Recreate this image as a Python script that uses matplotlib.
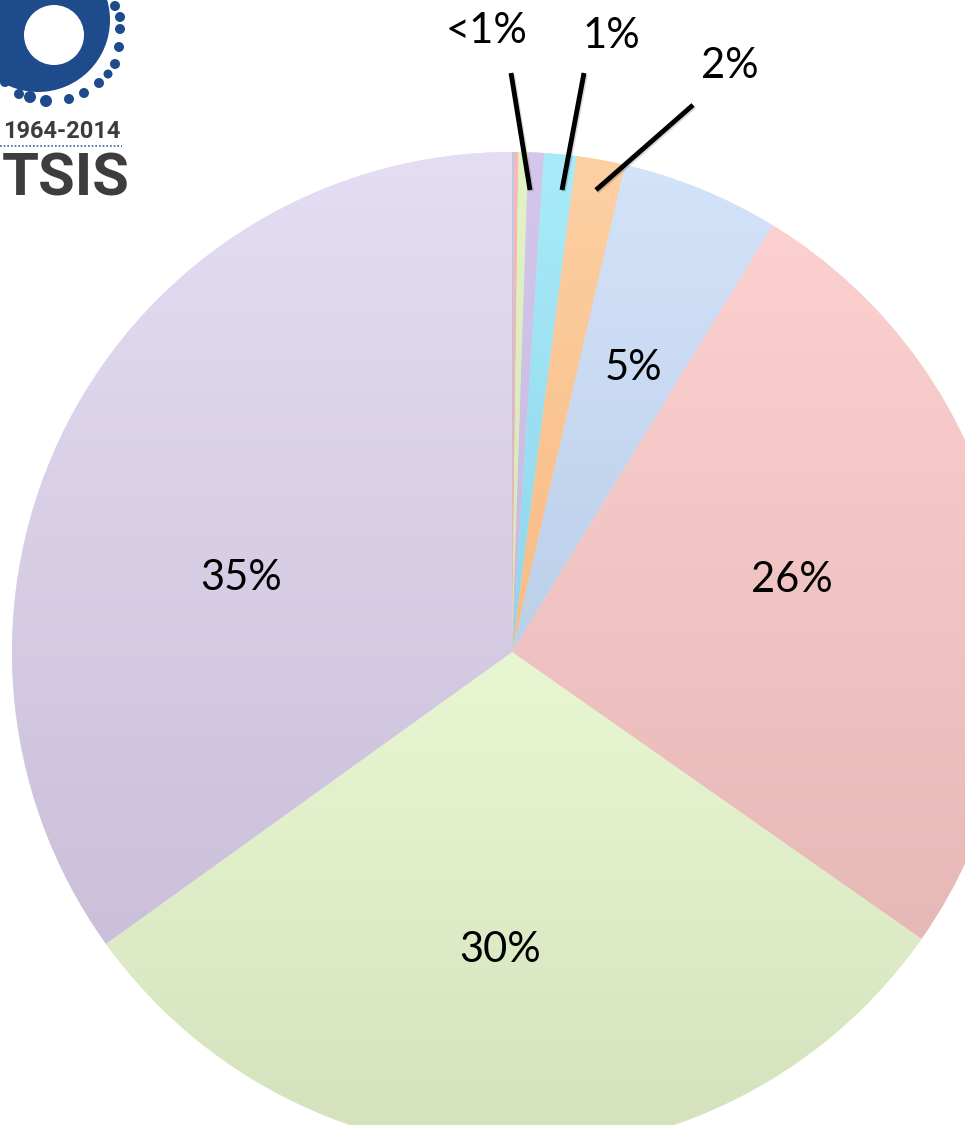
import numpy as np
import matplotlib
matplotlib.use("Agg")
import matplotlib.pyplot as plt
from matplotlib.patches import Circle
import matplotlib.patheffects as pe
from matplotlib.colors import to_rgb

# slice shares, clockwise from 12 o'clock
shares = [0.06, 0.14, 0.32, 0.50, 1.04, 1.57, 5.10, 26.00, 30.35, 34.92]
top_cols = ["#b4cbee", "#f9b9b8", "#e2f3c6", "#d4c6ec", "#a9ebf8", "#fdd0a4",
            "#d3e3f9", "#fbd0cf", "#e8f7d2", "#e4ddf3"]
bot_cols = ["#a9c0e4", "#eeaeae", "#d5e6b9", "#c8b9de", "#8ed6ec", "#f8bb85",
            "#bccfe9", "#e6b9b7", "#d5e1bd", "#cbbfd9"]
labels = ["", "", "", "<1%", "1%", "2%", "5%", "26%", "30%", "35%"]

# where the labels sit (pixels, y down) and the leader lines for the small ones
lab_xy = [None, None, None, (487, 31), (611, 36), (730, 66),
          (633, 368), (792, 580), (500, 950), (241, 578)]
leaders = {3: ((511, 73), (530, 190)),
           4: ((584, 73), (562, 190)),
           5: ((693, 105), (596, 190))}

W, H = 965, 1125
cx, cy, R = 512, 652, 500


def Y(y):
    return H - y


fig = plt.figure(figsize=(W / 100, H / 100), dpi=100)
ax = fig.add_axes([0, 0, 1, 1])

wedges, _ = ax.pie(
    shares,
    colors=top_cols,
    startangle=90,
    counterclock=False,
    center=(cx, Y(cy)),
    radius=R,
    wedgeprops=dict(linewidth=0),
)

# vertical light-to-dark gradient inside every slice
for w, c0, c1 in zip(wedges, top_cols, bot_cols):
    v = w.get_path().vertices
    x0, x1 = v[:, 0].min(), v[:, 0].max()
    y0, y1 = v[:, 1].min(), v[:, 1].max()
    t = np.linspace(0, 1, 256)[:, None]
    a, b = np.array(to_rgb(c0)), np.array(to_rgb(c1))
    img = (a * (1 - t) + b * t)[:, None, :]
    im = ax.imshow(img, extent=[x0 - 1, x1 + 1, y0 - 1, y1 + 1], origin="upper",
                   aspect="auto", interpolation="bilinear", zorder=1.5)
    im.set_clip_path(w)

fnt = "Lato"
for i, lab in enumerate(labels):
    if not lab:
        continue
    x, y = lab_xy[i]
    ax.text(x, Y(y), lab, fontsize=30, family=fnt, color="black",
            ha="center", va="center", zorder=5)

shadow = [pe.SimpleLineShadow(offset=(1.0, -1.0), alpha=0.15, shadow_color="black"),
          pe.Normal()]
for i, (p0, p1) in leaders.items():
    ax.plot([p0[0], p1[0]], [Y(p0[1]), Y(p1[1])], color="black", lw=3.5,
            solid_capstyle="butt", zorder=6, path_effects=shadow)

# logo in the top-left corner
blue = "#1d4b8c"
dots = [(115, 6, 5), (120, 17, 5), (120, 29, 5), (119, 47, 5), (115, 64, 5),
        (108, 74, 4.5), (99, 83, 5), (84, 93, 5), (69, 99, 5), (46, 101, 6),
        (30, 97, 6), (19, 94, 5), (5, 82, 5)]
for dx, dy, dr in dots:
    ax.add_patch(Circle((dx, Y(dy)), dr, color=blue, zorder=7, lw=0))
ax.add_patch(Circle((38, Y(20)), 72, color=blue, zorder=7, lw=0))
ax.add_patch(Circle((54, Y(35)), 30, color="white", zorder=8, lw=0))
ax.text(120, Y(131), "1964-2014", fontsize=17, family="Roboto", weight="bold",
        color="#3c3c3c", ha="right", va="center", zorder=9)
ax.plot([0, 122], [Y(146), Y(146)], color="#3a64a0", lw=1.2,
        linestyle=(0, (1, 1.2)), zorder=9)
ax.text(2, Y(180), "TSIS", fontsize=43, family="Roboto", weight="bold",
        color="#3d3d3d", ha="left", va="center", zorder=9)

ax.set_xlim(0, W)
ax.set_ylim(0, H)
ax.set_aspect("equal")
ax.axis("off")

fig.savefig("out.png", dpi=100, facecolor="white")
